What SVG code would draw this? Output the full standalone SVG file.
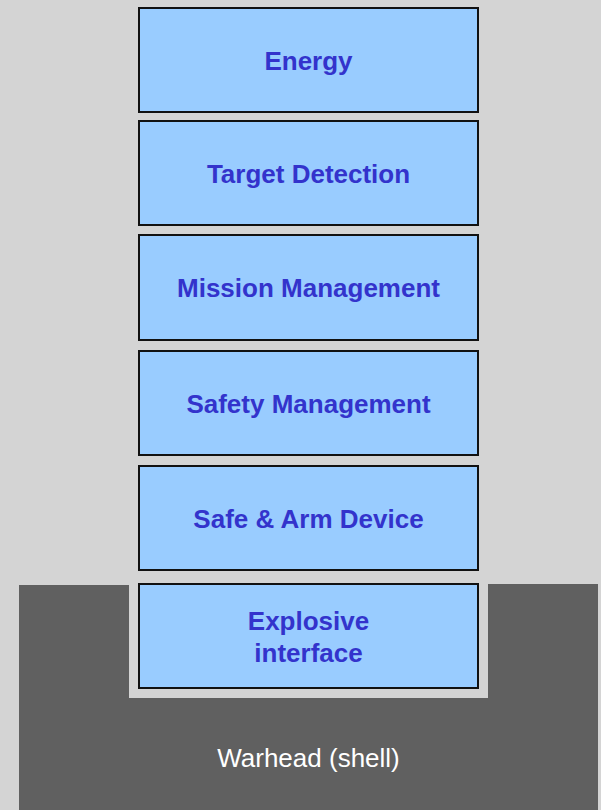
<svg xmlns="http://www.w3.org/2000/svg" width="601" height="810" viewBox="0 0 601 810">
  <style>
    .layer rect { fill: #99ccff; stroke: #111111; stroke-width: 2; }
    .layer text { font-family: "Liberation Sans", Arial, sans-serif; font-size: 26px; font-weight: bold; fill: #3333cc; text-anchor: middle; }
    .shell-label { font-family: "Liberation Sans", Arial, sans-serif; font-size: 26px; fill: #ffffff; text-anchor: middle; }
  </style>

  <!-- background -->
  <rect x="0" y="0" width="601" height="810" fill="#d4d4d4"/>

  <!-- warhead shell with the cavity the fuze stack sits in -->
  <g id="warhead">
    <path d="M19 585 H129 V698 H488 V584 H598 V810 H19 Z" fill="#606060"/>
    <text class="shell-label" x="308.5" y="767">Warhead (shell)</text>
  </g>

  <!-- fuze layer stack -->
  <g id="energy" class="layer">
    <rect x="139" y="8" width="339" height="104"/>
    <text x="308.5" y="70">Energy</text>
  </g>
  <g id="target-detection" class="layer">
    <rect x="139" y="121" width="339" height="104"/>
    <text x="308.5" y="183">Target Detection</text>
  </g>
  <g id="mission-management" class="layer">
    <rect x="139" y="235" width="339" height="105"/>
    <text x="308.5" y="297">Mission Management</text>
  </g>
  <g id="safety-management" class="layer">
    <rect x="139" y="351" width="339" height="104"/>
    <text x="308.5" y="413">Safety Management</text>
  </g>
  <g id="safe-arm-device" class="layer">
    <rect x="139" y="466" width="339" height="104"/>
    <text x="308.5" y="528">Safe &amp; Arm Device</text>
  </g>
  <g id="explosive-interface" class="layer">
    <rect x="139" y="584" width="339" height="104"/>
    <text x="308.5" y="630">Explosive</text>
    <text x="308.5" y="662">interface</text>
  </g>

  <g id="connectors"/>
</svg>
